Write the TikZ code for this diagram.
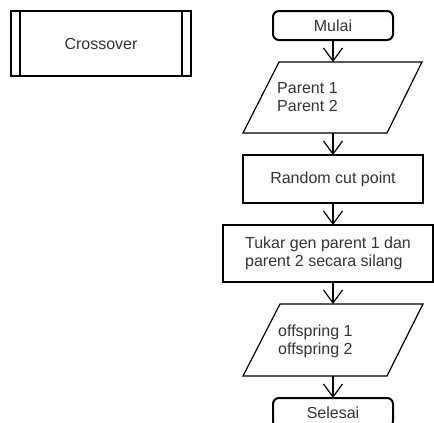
\documentclass[tikz,border=0pt]{standalone}
\usepackage{fontspec}
\setmainfont{Liberation Sans}
\usetikzlibrary{arrows.meta}
\definecolor{txt}{HTML}{333333}
\begin{document}
\begin{tikzpicture}[x=1pt,y=-1pt,
  every node/.style={font=\fontsize{16}{18}\selectfont, text=txt},
  boxstyle/.style={draw=black, line width=1.2pt, rectangle, inner sep=0pt, outer sep=0pt},
  termstyle/.style={draw=black, line width=2pt, rectangle, rounded corners=6pt, inner sep=0pt, outer sep=0pt,
    minimum width=120pt, minimum height=29pt},
  iostyle/.style={draw=black, line width=1.2pt, line join=miter},
  flow/.style={draw=black, line width=1.2pt, -{Straight Barb[length=13pt,width=19pt,line width=1.2pt]}}
]
\useasboundingbox (0,0) rectangle (434,423);
\clip (0,0) rectangle (434,423);

% predefined-process box
\node[boxstyle, minimum width=180pt, minimum height=65pt] (cross) at (101,43.5) {Crossover};
\draw[line width=1.2pt] ([xshift=9pt]cross.north west) -- ([xshift=9pt]cross.south west);
\draw[line width=1.2pt] ([xshift=-9pt]cross.north east) -- ([xshift=-9pt]cross.south east);

% start
\node[termstyle] (mulai) at (333,25.5) {Mulai};

% input parallelogram
\draw[iostyle] (279,62) -- (422,62) -- (387,133) -- (243,133) -- cycle;
\coordinate (p1top) at (333,62);
\coordinate (p1bot) at (333,133);
\node[anchor=west, align=left, inner sep=0pt] (p1text) at (277,97.5) {Parent 1\\Parent 2};

% process steps
\node[boxstyle, minimum width=180pt, minimum height=48pt] (random) at (333,179) {Random cut point};
\node[boxstyle, minimum width=210pt, minimum height=57pt, align=left] (tukar) at (328,253.5)
  {Tukar gen parent 1 dan\\parent 2 secara silang};

% output parallelogram
\draw[iostyle] (280,304) -- (423,304) -- (387,376) -- (243,376) -- cycle;
\coordinate (p2top) at (333,304);
\coordinate (p2bot) at (333,376);
\node[anchor=west, align=left, inner sep=0pt] (p2text) at (278,341) {offspring 1\\offspring 2};

% end
\node[termstyle] (selesai) at (333,412.5) {Selesai};

% connectors
\draw[flow] (mulai.south) -- (p1top);
\draw[flow] (p1bot) -- (random.north);
\draw[flow] (random.south) -- (tukar.north -| random.south);
\draw[flow] (tukar.south -| random.south) -- (p2top);
\draw[flow] (p2bot) -- (selesai.north);
\end{tikzpicture}
\end{document}
